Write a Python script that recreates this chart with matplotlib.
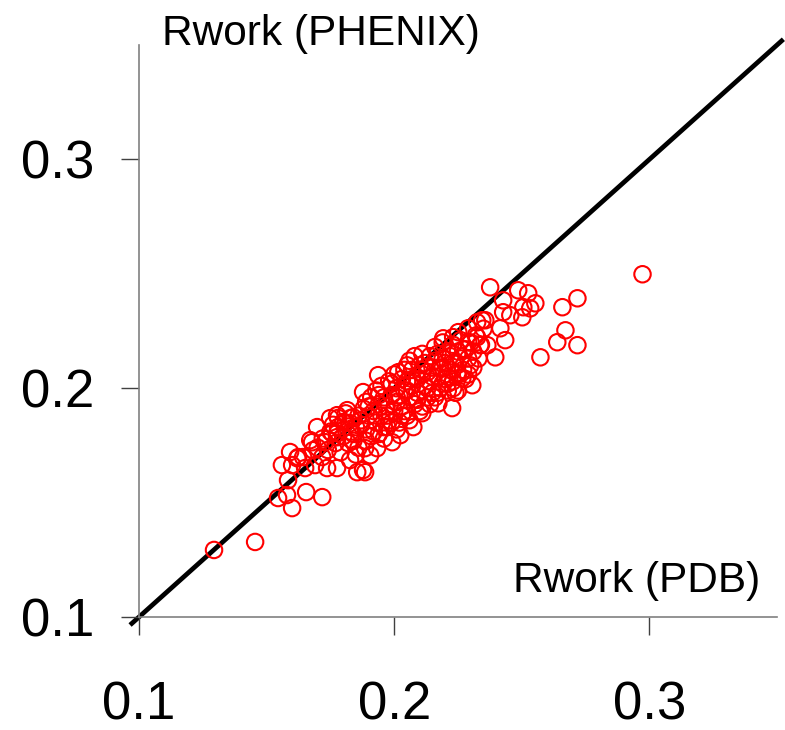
import matplotlib
matplotlib.use("Agg")
import matplotlib.pyplot as plt

plt.rcParams['font.family'] = ['Liberation Sans', 'DejaVu Sans']

# Rwork values (PDB vs PHENIX)
rwork_pdb = [
    0.1294, 0.1455, 0.2973,
    0.2376, 0.2486, 0.2525, 0.2553, 0.2427, 0.2427, 0.2455, 0.2502, 0.2506, 0.2533, 0.2416, 0.2435, 0.2396, 0.2345, 0.2365,
    0.2718, 0.2659, 0.2671, 0.2639, 0.2718, 0.2573,
    0.2325, 0.2290, 0.2325, 0.2192, 0.2231, 0.2251, 0.2290, 0.2337, 0.2298, 0.2306, 0.2231, 0.2247, 0.2357,
    0.1600, 0.1545, 0.1580, 0.1718, 0.1655, 0.1584, 0.1560, 0.1600, 0.1620, 0.1651, 0.1643, 0.1690, 0.1737, 0.1776,
    0.1855, 0.1886, 0.1682, 0.1718, 0.1678, 0.1729, 0.1757, 0.1749, 0.1698, 0.1671, 0.1592, 0.1624, 0.1827, 0.1800,
    0.1776, 0.1839, 0.1886, 0.1878,
    0.2227, 0.2173, 0.2075, 0.2110, 0.2024, 0.1992, 0.1933, 0.1906, 0.1878, 0.1937, 0.2016, 0.2051, 0.1776, 0.1816,
    0.1776, 0.1827, 0.1973, 0.2267,
    0.180, 0.181, 0.183, 0.184, 0.185, 0.186,
    0.187, 0.188, 0.189, 0.189, 0.190, 0.191, 0.191,
    0.192, 0.193, 0.193, 0.194, 0.195, 0.195, 0.196, 0.196,
    0.197, 0.198, 0.198, 0.199, 0.200, 0.200, 0.201, 0.201,
    0.202, 0.202, 0.203, 0.203, 0.204, 0.204, 0.205, 0.205, 0.206, 0.206,
    0.207, 0.207, 0.208, 0.208, 0.209, 0.209, 0.210, 0.210, 0.211, 0.211,
    0.212, 0.212, 0.213, 0.213, 0.214, 0.214, 0.215, 0.215, 0.216, 0.216,
    0.217, 0.217, 0.218, 0.218, 0.219, 0.219, 0.220, 0.220, 0.221, 0.221,
    0.222, 0.222, 0.223, 0.223, 0.224, 0.225, 0.225, 0.226, 0.226, 0.227,
    0.228, 0.228, 0.229, 0.230, 0.231, 0.231, 0.232, 0.233, 0.234, 0.235,
    0.170, 0.172, 0.174, 0.175, 0.177, 0.178, 0.179, 0.182, 0.183, 0.185,
    0.176, 0.178, 0.181, 0.184, 0.187, 0.190, 0.192, 0.194, 0.197, 0.199,
    0.201, 0.203, 0.205, 0.207, 0.209, 0.211, 0.213, 0.215, 0.217, 0.219,
    0.221, 0.223, 0.225, 0.227, 0.229, 0.186, 0.189, 0.194, 0.199, 0.204,
    0.209, 0.214, 0.219, 0.224, 0.196, 0.201, 0.206, 0.211, 0.216, 0.221,
]
rwork_phenix = [
    0.1293, 0.1328, 0.2498,
    0.2441, 0.2428, 0.2415, 0.2371, 0.2384, 0.2332, 0.2319, 0.2310, 0.2354, 0.2349, 0.2262, 0.2210, 0.2135, 0.2297, 0.2188,
    0.2393, 0.2354, 0.2253, 0.2201, 0.2188, 0.2135,
    0.2288, 0.2262, 0.2223, 0.2218, 0.2223, 0.2245, 0.2201, 0.2188, 0.2100, 0.2013, 0.2000, 0.2066, 0.2297,
    0.1476, 0.1520, 0.1533, 0.1524, 0.1546, 0.1598, 0.1664, 0.1664, 0.1694, 0.1651, 0.1699, 0.1664, 0.1651, 0.1651,
    0.1633, 0.1633, 0.1729, 0.1699, 0.1764, 0.1764, 0.1803, 0.1869, 0.1830, 0.1773, 0.1721, 0.1699, 0.1686, 0.1852,
    0.1803, 0.1873, 0.1738, 0.1642,
    0.1913, 0.1934, 0.1830, 0.1891, 0.1795, 0.1764, 0.1738, 0.1707, 0.1983, 0.2057, 0.2070, 0.2100, 0.1882, 0.1904,
    0.1786, 0.1847, 0.1830, 0.2044,
    0.179, 0.185, 0.181, 0.177, 0.183, 0.188,
    0.186, 0.191, 0.182, 0.194, 0.188, 0.179, 0.196,
    0.190, 0.185, 0.199, 0.193, 0.188, 0.201, 0.183, 0.196,
    0.192, 0.186, 0.203, 0.197, 0.190, 0.206, 0.194, 0.200,
    0.185, 0.197, 0.204, 0.192, 0.208, 0.199, 0.188, 0.203, 0.212, 0.196,
    0.201, 0.208, 0.193, 0.214, 0.204, 0.198, 0.210, 0.190, 0.206, 0.215,
    0.201, 0.211, 0.196, 0.207, 0.214, 0.203, 0.209, 0.198, 0.218, 0.212,
    0.205, 0.215, 0.209, 0.200, 0.213, 0.220, 0.204, 0.211, 0.216, 0.199,
    0.208, 0.214, 0.219, 0.203, 0.211, 0.216, 0.206, 0.221, 0.213, 0.208,
    0.217, 0.204, 0.213, 0.220, 0.209, 0.216, 0.223, 0.213, 0.219, 0.226,
    0.174, 0.178, 0.173, 0.181, 0.176, 0.183, 0.172, 0.176, 0.187, 0.171,
    0.184, 0.187, 0.189, 0.180, 0.184, 0.192, 0.181, 0.197, 0.188, 0.202,
    0.196, 0.188, 0.199, 0.204, 0.195, 0.208, 0.200, 0.205, 0.198, 0.209,
    0.205, 0.211, 0.199, 0.217, 0.206, 0.174, 0.177, 0.180, 0.185, 0.190,
    0.195, 0.193, 0.202, 0.198, 0.178, 0.182, 0.186, 0.192, 0.196, 0.202,
]
ticks = [0.1, 0.2, 0.3]
tick_labels = ["0.1", "0.2", "0.3"]
diag = [0.0965, 0.3525]

fig = plt.figure(figsize=(7.85, 7.3), dpi=100)
ax = fig.add_axes([139/785, (730-617)/730, (777-139)/785, (617-45)/730])

ax.plot(diag, diag, color='black', lw=3.4, solid_capstyle='butt', clip_on=False, zorder=1)
ax.scatter(rwork_pdb, rwork_phenix, s=140, facecolors='none', edgecolors='#ff0000',
           linewidths=1.5, zorder=2, clip_on=False)

ax.set_xlim(0.1, 0.35)
ax.set_ylim(0.1, 0.35)
ax.set_xticks(ticks)
ax.set_xticklabels(tick_labels)
ax.set_yticks(ticks)
ax.set_yticklabels(tick_labels)

for side in ['top', 'right']:
    ax.spines[side].set_visible(False)
for side in ['left', 'bottom']:
    ax.spines[side].set_color('#808080')
    ax.spines[side].set_linewidth(1.2)

ax.tick_params(axis='x', direction='out', length=13, width=1.0, color='#404040',
               labelsize=38, pad=33)
ax.tick_params(axis='y', direction='out', length=13, width=1.0, color='#404040',
               labelsize=38, pad=19)
ax.set_facecolor('white')

ax.text((162-139)/638, 1.0, "Rwork (PHENIX)", transform=ax.transAxes,
        fontsize=30.5, ha='left', va='baseline')
ax.text((760-139)/638, (617-592)/572, "Rwork (PDB)", transform=ax.transAxes,
        fontsize=30.5, ha='right', va='baseline')

fig.savefig("out.png", dpi=100, facecolor='white')
